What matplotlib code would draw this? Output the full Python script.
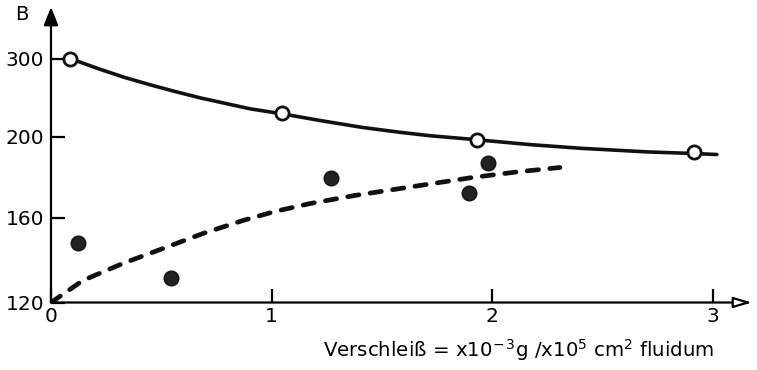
import numpy as np
import matplotlib
matplotlib.use("Agg")
import matplotlib.pyplot as plt

# ---- data ----
x_open = [0.086, 1.047, 1.930, 2.913]
y_open = [300, 229.5, 198.5, 192.1]

x_curve = [0.086, 0.222, 0.335, 0.449, 0.562, 0.675, 0.902, 1.047, 1.219,
           1.414, 1.581, 1.717, 1.930, 2.170, 2.397, 2.700, 2.913, 3.017]
y_curve = [300, 286.2, 275.6, 266.3, 257.7, 249.6, 235.5, 229.1, 220.5,
           211.5, 205.4, 201.0, 198.4, 196.0, 194.2, 192.4, 191.6, 191.1]

x_dash = [0.0, 0.0725, 0.145, 0.326, 0.507, 0.689, 0.870, 1.015, 1.174,
          1.377, 1.581, 1.912, 2.111, 2.306]
y_dash = [120, 125.2, 130.4, 138.4, 145.4, 152.5, 158.6, 163.0, 166.9,
          170.9, 174.3, 179.8, 182.5, 184.7]

x_dots = [0.122, 0.544, 1.269, 1.894, 1.980]
y_dots = [148.2, 131.3, 179.3, 171.9, 186.7]

x_ticks = [0, 1, 2, 3]
x_ticklabels = ["0", "1", "2", "3"]
y_ticks = [120, 160, 200, 300]
y_ticklabels = ["120", "160", "200", "300"]

xlabel = r"Verschleiß = x10$^{-\,3}$g /x10$^{5}$ cm$^{2}$ fluidum"
ylabel = "B"

# ---- non-uniform (broken) y scale: tick values are nearly equally spaced ----
Y_NODES = np.array([120.0, 160.0, 200.0, 300.0])
Y_POS = np.array([0.0, 85.0, 166.0, 244.0])
S_LO = (Y_POS[1] - Y_POS[0]) / (Y_NODES[1] - Y_NODES[0])
S_HI = (Y_POS[-1] - Y_POS[-2]) / (Y_NODES[-1] - Y_NODES[-2])


def fwd(v):
    v = np.asarray(v, dtype=float)
    out = np.interp(v, Y_NODES, Y_POS)
    out = np.where(v > Y_NODES[-1], Y_POS[-1] + (v - Y_NODES[-1]) * S_HI, out)
    out = np.where(v < Y_NODES[0], Y_POS[0] + (v - Y_NODES[0]) * S_LO, out)
    return out


def inv(p):
    p = np.asarray(p, dtype=float)
    out = np.interp(p, Y_POS, Y_NODES)
    out = np.where(p > Y_POS[-1], Y_NODES[-1] + (p - Y_POS[-1]) / S_HI, out)
    out = np.where(p < Y_POS[0], Y_NODES[0] + (p - Y_POS[0]) / S_LO, out)
    return out


plt.rcParams['font.family'] = ['DejaVu Sans']

fig = plt.figure(figsize=(7.57, 3.70), dpi=100)
ax = fig.add_axes([51 / 757, (370 - 302.5) / 370, 701 / 757, 295.5 / 370])
ax.set_yscale('function', functions=(fwd, inv))
ax.set_xlim(0, 701 / 220.7)
ax.set_ylim(120, inv(295.5))

for s in ax.spines.values():
    s.set_visible(False)
ax.patch.set_alpha(0)

# axes with arrows
ax.annotate("", xy=(0, 1), xytext=(0, 0), xycoords='axes fraction',
            arrowprops=dict(arrowstyle='-|>,head_length=0.55,head_width=0.22',
                            lw=1.6, color='black', shrinkA=0, shrinkB=0,
                            mutation_scale=20), zorder=5)
ax.annotate("", xy=(1, 0), xytext=(0, 0), xycoords='axes fraction',
            arrowprops=dict(arrowstyle='-|>,head_length=0.55,head_width=0.16',
                            lw=1.6, ec='black', fc='white', shrinkA=0, shrinkB=0,
                            mutation_scale=20), zorder=5)

# curves
ax.plot(x_curve, y_curve, color='#111111', lw=2.6, solid_capstyle='round',
        solid_joinstyle='round', zorder=3)
ax.plot(x_dash, y_dash, color='#111111', lw=3.4, dashes=(2.4, 2.4),
        dash_capstyle='round', dash_joinstyle='round', zorder=3)
ax.plot(x_open, y_open, 'o', ms=9.5, mfc='white', mec='#111111', mew=2.0, zorder=4)
ax.plot(x_dots, y_dots, 'o', ms=10.5, mfc='#222222', mec='#111111', mew=1.0, zorder=4)

ax.set_xticks(x_ticks)
ax.set_xticklabels(x_ticklabels)
ax.set_yticks(y_ticks)
ax.set_yticklabels(y_ticklabels)
ax.yaxis.set_minor_locator(matplotlib.ticker.NullLocator())
ax.xaxis.set_minor_locator(matplotlib.ticker.NullLocator())
ax.tick_params(axis='both', direction='in', length=10, width=1.6, color='black',
               labelsize=14.5, labelcolor='black')
ax.tick_params(axis='y', pad=5)
ax.tick_params(axis='x', pad=3)

fig.text(519 / 757, (370 - 350) / 370, xlabel, ha='center', va='center', fontsize=14.2)
fig.text(22 / 757, 1 - 15 / 370, ylabel, ha='center', va='center', fontsize=14)

fig.savefig("out.png", dpi=100)
